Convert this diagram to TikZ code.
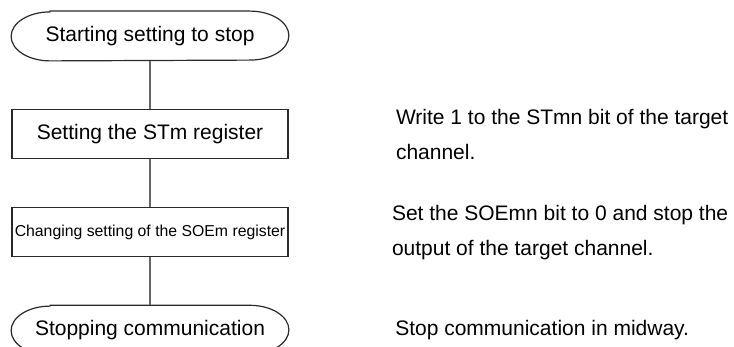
\documentclass[tikz,border=0pt]{standalone}
\usepackage{fontspec}
\setmainfont{Liberation Sans}
\usetikzlibrary{positioning}
\definecolor{FlowEdge}{HTML}{2A2A2A}
\definecolor{FlowLine}{HTML}{666666}

\begin{document}
\begin{tikzpicture}[x=0.5pt,y=0.5pt,node distance=24pt and 53pt,
 procbox/.style={draw=FlowEdge,line width=0.6pt,minimum width=138pt,minimum height=24.5pt,inner sep=0pt,align=center,font=\fontsize{10.5}{12}\selectfont},
 termbox/.style={minimum width=138.5pt,minimum height=24.5pt,inner sep=0pt,align=center,font=\fontsize{10.5}{12}\selectfont},
 note/.style={inner sep=0pt,align=left,font=\fontsize{10.5}{17.5}\selectfont}]
\useasboundingbox (0,0) rectangle (734,-347);
% flow
\node[termbox] (start) at (150,-36) {Starting setting to stop};
\node[procbox,below=of start] (stm) {Setting the STm register};
\node[procbox,below=of stm,font=\fontsize{7.9}{9}\selectfont] (soe) {Changing setting of the SOEm register};
\node[termbox,below=of soe] (stop) {Stopping communication};
\foreach \t in {start,stop}
 \draw[FlowEdge,line width=0.6pt] ([xshift=19.5pt]\t.north west) -- ([xshift=-19.5pt]\t.north east)
  arc[start angle=90,end angle=-90,x radius=19.5pt,y radius=12.25pt] -- ([xshift=19.5pt]\t.south west)
  arc[start angle=270,end angle=90,x radius=19.5pt,y radius=12.25pt] -- cycle;
\draw[FlowLine,line width=0.65pt] (start)--(stm);\draw[FlowLine,line width=0.65pt] (stm)--(soe);\draw[FlowLine,line width=0.65pt] (soe)--(stop);
% notes
\node[note,right=53.5pt of stm] (n1) {Write 1 to the STmn bit of the target\\channel.};
\node[note,right=51.5pt of soe] (n2) {Set the SOEmn bit to 0 and stop the\\output of the target channel.};
\node[note,right=53pt of stop] (n3) {Stop communication in midway.};
\end{tikzpicture}
\end{document}
